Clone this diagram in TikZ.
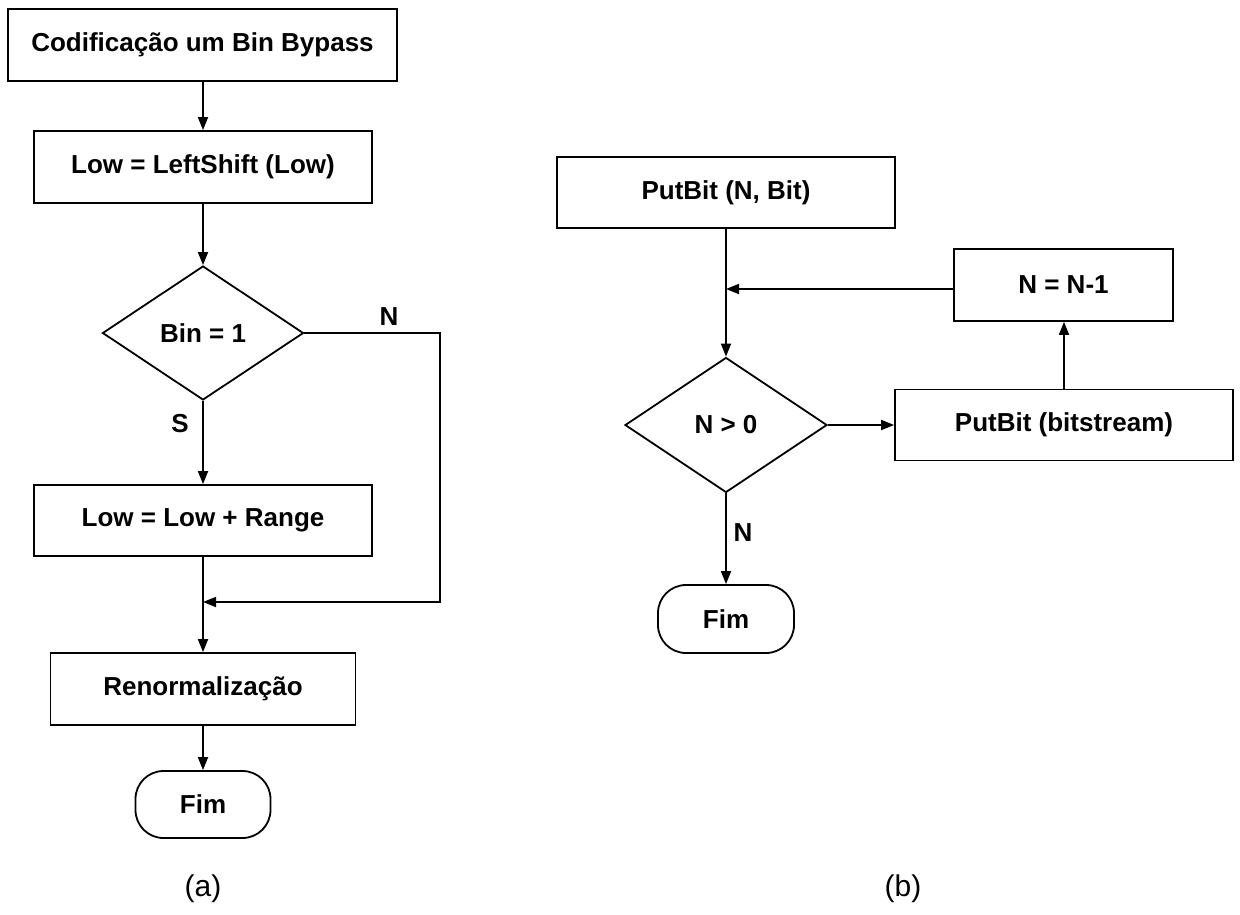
\documentclass[tikz,border=0pt]{standalone}
\usepackage{fontspec}
\setmainfont{Liberation Sans}
\usetikzlibrary{arrows.meta,shapes.geometric}
\begin{document}
\begin{tikzpicture}[x=1pt,y=-1pt,
  every node/.style={font=\bfseries\fontsize{26}{31}\selectfont},
  procbox/.style={draw,line width=1.8pt,rectangle,inner sep=0pt,minimum width=#1,minimum height=71pt},
  decision/.style={draw,line width=1.8pt,diamond,inner sep=0pt,minimum width=201pt,minimum height=134pt},
  terminal/.style={draw,line width=1.8pt,rectangle,rounded corners=28pt,inner sep=0pt,minimum width=135pt,minimum height=67pt},
  flow/.style={line width=1.8pt,-{Triangle[length=13pt,width=10pt]}},
  plain/.style={line width=1.8pt},
  caption/.style={font=\fontsize{30}{36}\selectfont}]
\useasboundingbox (0,0) rectangle (1240,914);

% (a) Bypass bin encoding
\node[procbox=389pt,minimum height=72pt] (start) at (202.5,45) {Codificação um Bin Bypass};
\node[procbox=338pt,minimum height=72pt] (shift) at (203,167) {Low = LeftShift (Low)};
\node[decision] (bin) at (203,333) {Bin = 1};
\node[procbox=338pt] (add) at (203,520.5) {Low = Low + Range};
\coordinate (join) at (203,602);
\node[procbox=305pt,minimum height=72pt] (renorm) at (203,689) {Renormalização};
\node[terminal] (endA) at (203,804.5) {Fim};
\coordinate (corner1) at (440,333);
\coordinate (corner2) at (440,602);

\draw[flow] (start.south -| shift.north) -- (shift.north);
\draw[flow] (shift) -- (bin);
\draw[flow] (bin) -- (add);
\draw[plain] (add) -- (join);
\draw[flow] (bin.east) -- (corner1) -- (corner2) -- (join);
\draw[flow] (join) -- (renorm);
\draw[flow] (renorm) -- (endA);
\node (labN1) at (389,317) {N};
\node (labS) at (180,424) {S};
\node[caption] (capA) at (203,889) {(a)};

% (b) PutBit
\node[procbox=338pt] (put) at (726,192.5) {PutBit (N, Bit)};
\node[procbox=219pt,minimum height=72pt] (dec) at (1063.5,285) {N = N-1};
\node[decision,minimum width=202pt,minimum height=135pt] (test) at (726,425) {N > 0};
\node[procbox=338pt] (out) at (1064,425) {PutBit (bitstream)};
\node[terminal,minimum width=136pt,minimum height=68pt] (endB) at (726,619) {Fim};
\coordinate (merge) at (726,289);

\draw[flow] (put) -- (test);
\draw[flow] (dec.west |- merge) -- (merge);
\draw[flow] (test) -- (out);
\draw[flow] (out.north) -- (out.north |- dec.south);
\draw[flow] (test) -- (endB);
\node (labN2) at (743,533) {N};
\node[caption] (capB) at (903,889) {(b)};
\end{tikzpicture}
\end{document}
